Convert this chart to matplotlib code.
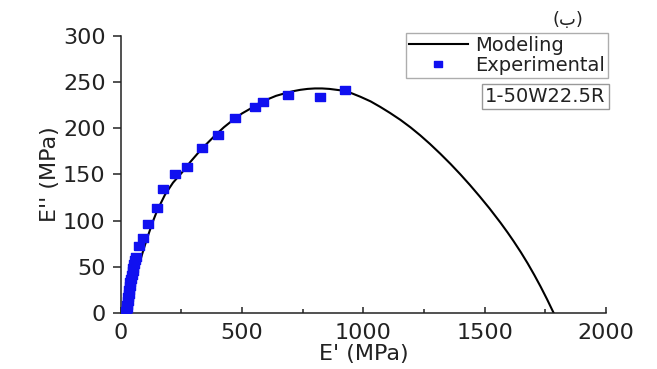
import matplotlib
matplotlib.use("Agg")
import matplotlib.pyplot as plt
from matplotlib.ticker import MultipleLocator

plt.rcParams['font.family'] = ['DejaVu Sans']

# modeling curve
model_x = [10, 18, 28, 45, 62, 78, 95, 115, 135, 150, 182, 215, 252, 285, 318, 350,
           388, 425, 463, 500, 540, 570, 603, 640, 680, 710, 740, 770, 800, 830,
           860, 905, 950, 988, 1030, 1070, 1110, 1153, 1195, 1235, 1275, 1318,
           1360, 1401, 1440, 1480, 1520, 1566, 1595, 1620, 1650, 1678, 1705,
           1731, 1758, 1785]
model_y = [0, 4, 12, 28, 42, 55, 70, 86, 101, 111, 128, 141, 152, 163, 173, 182,
           192, 201, 209, 216, 222, 227, 231, 235, 238, 240, 241.5, 242.5, 243, 243,
           242.5, 241, 238, 234, 229, 223, 216.5, 209, 200.8, 192.2, 182.9, 172.2,
           161.2, 149.8, 138.4, 126.1, 113.3, 97.6, 87.1, 77.6, 65.6, 53.6, 41.2,
           28.6, 14.7, 0]

# experimental points
exp_x = [22, 24, 26, 28, 30, 32, 34, 37, 39, 42, 45, 48, 51, 55, 58, 62,
         74, 91, 112, 149, 174, 223, 273, 335, 401, 471, 554, 587, 690, 820, 925]
exp_y = [2, 5, 9, 13, 17, 21, 25, 29, 33, 37, 41, 45, 49, 53, 57, 61,
         72, 81, 96, 114, 134, 150, 158, 178, 193, 211, 223, 228, 236, 234, 241]

sample = "1-50W22.5R"

fig = plt.figure(figsize=(6.57, 3.69), dpi=100)
ax = fig.add_axes([0.184, 0.152, 0.738, 0.751])

rect = [(-1.4, -1), (1.4, -1), (1.4, 1), (-1.4, 1), (-1.4, -1)]
ax.plot(model_x, model_y, color="black", lw=1.5, label="Modeling", zorder=2)
ax.plot(exp_x, exp_y, ls="none", marker=rect, markersize=7.2, color="#1010f0",
        label="Experimental", zorder=3)

ax.set_xlim(0, 2000)
ax.set_ylim(0, 300)
ax.xaxis.set_major_locator(MultipleLocator(500))
ax.xaxis.set_minor_locator(MultipleLocator(250))
ax.yaxis.set_major_locator(MultipleLocator(50))

for s in ["top", "right"]:
    ax.spines[s].set_visible(False)
for s in ["left", "bottom"]:
    ax.spines[s].set_linewidth(1.1)
    ax.spines[s].set_color("#222222")

ax.tick_params(axis="x", which="major", direction="in", length=4, width=1.1,
               pad=7, labelsize=16, labelcolor="#222222", color="#222222")
ax.tick_params(axis="x", which="minor", direction="in", length=3, width=1.1,
               color="#222222")
ax.tick_params(axis="y", direction="out", length=6, width=1.1, pad=5,
               labelsize=16, labelcolor="#222222", color="#222222")

ax.set_xlabel("E' (MPa)", fontsize=16, color="#222222", labelpad=1)
ax.set_ylabel("E'' (MPa)", fontsize=16, color="#222222", labelpad=2)

leg = ax.legend(loc="upper right", bbox_to_anchor=(1.005, 1.01), fontsize=14,
                numpoints=1, frameon=True, fancybox=False, handlelength=3.0,
                handletextpad=0.4, borderpad=0.15, labelspacing=0.05,
                borderaxespad=0, markerscale=0.85)
leg.get_frame().set_edgecolor("#999999")
leg.get_frame().set_linewidth(1.0)
for t in leg.get_texts():
    t.set_color("#222222")

ax.text(1.0, 0.815, sample, transform=ax.transAxes, ha="right", va="top",
        fontsize=14, color="#222222",
        bbox=dict(boxstyle="square,pad=0.15", fc="white", ec="#999999", lw=1.0))

fig.text(0.865, 0.945, "(ب)", ha="center", va="center", fontsize=13,
         color="#222222")

fig.savefig("out.png", dpi=100)
